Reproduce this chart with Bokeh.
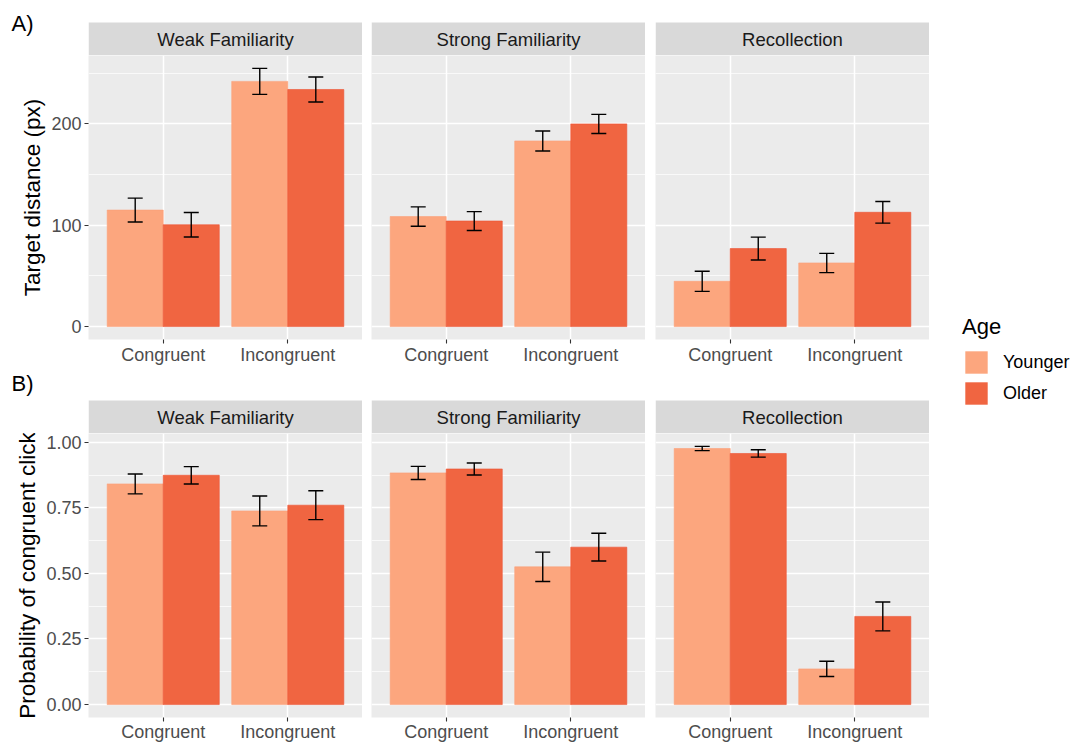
from bokeh.plotting import figure
from bokeh.models import (Range1d, FactorRange, FixedTicker, Whisker, TeeHead,
                          ColumnDataSource, Legend, LegendItem, NumeralTickFormatter)
from bokeh.layouts import row, column
from bokeh.transform import dodge
from bokeh.embed import file_html
from bokeh.resources import INLINE
from bokeh.core.properties import value

# ---- data -------------------------------------------------------------
conditions = ["Weak Familiarity", "Strong Familiarity", "Recollection"]
congruency = ["Congruent", "Incongruent"]
ages = ["Younger", "Older"]
age_colors = ["#FCA67E", "#F06541"]
age_lines = ["#FBA079", "#EC5334"]
panel_tags = ["A)", "B)"]

# cell order: (Weak: Cong, Incong), (Strong: Cong, Incong), (Recollection: Cong, Incong)
dist_younger_mean = [115.0, 242.0, 108.6, 183.2, 44.7, 62.8]
dist_younger_se = [11.8, 12.8, 9.5, 9.9, 9.9, 9.5]
dist_older_mean = [100.5, 234.0, 104.2, 200.0, 77.0, 112.8]
dist_older_se = [12.1, 12.3, 9.3, 9.4, 11.3, 10.7]

prob_younger_mean = [0.841, 0.738, 0.883, 0.525, 0.976, 0.136]
prob_younger_se = [0.038, 0.057, 0.025, 0.056, 0.008, 0.029]
prob_older_mean = [0.874, 0.760, 0.898, 0.600, 0.957, 0.336]
prob_older_se = [0.033, 0.055, 0.023, 0.053, 0.014, 0.055]

dist_ticks = [0, 100, 200]
dist_minor = [50, 150, 250]
prob_ticks = [0.0, 0.25, 0.5, 0.75, 1.0]
prob_minor = [0.125, 0.375, 0.625, 0.875]

# ---- style --------------------------------------------------------------
FONT = "Liberation Sans"
PANEL_W = 274
LEFT = [88, 9, 10]
STRIP_H = 33
STRIP_FILL = "#D9D9D9"
DODGE = 0.225
BAR_W = 0.45
TICK_FS = "18px"


def padded_range(means_a, se_a, means_b, se_b):
    top = max(max(m + s for m, s in zip(means_a, se_a)),
              max(m + s for m, s in zip(means_b, se_b)))
    return (-0.05 * top, 1.05 * top)


def make_strip(ci, height, tag, tag_from_top):
    """Facet strip at the bottom of a white band; y runs in pixels from the bottom."""
    with_tag = ci == 0
    s = figure(width=LEFT[ci] + PANEL_W, height=height,
               x_range=Range1d(0, 1), y_range=Range1d(0, height),
               x_axis_location=None, y_axis_location="left" if with_tag else None,
               min_border_left=LEFT[ci], min_border_right=0,
               min_border_top=0, min_border_bottom=0,
               background_fill_color="white", border_fill_color="white",
               outline_line_color=None, toolbar_location=None, output_backend="svg")
    s.grid.visible = False
    s.quad(left=0, right=1, bottom=0, top=STRIP_H, fill_color=STRIP_FILL, line_color=None)
    s.text(x=[0.5], y=[STRIP_H / 2], text=[conditions[ci]], text_align="center",
           text_baseline="middle", text_font=value(FONT), text_font_size="18.5px",
           text_color="#1A1A1A")
    if with_tag:
        # the panel tag is written as the single tick label of a bare axis
        tag_y = height - tag_from_top
        ax = s.yaxis[0]
        ax.ticker = FixedTicker(ticks=[tag_y])
        ax.major_label_overrides = {tag_y: tag}
        ax.major_label_text_font = FONT
        ax.major_label_text_font_size = "22px"
        ax.major_label_text_color = "black"
        ax.major_label_standoff = 55
        ax.major_tick_out = 0
        ax.major_tick_in = 0
        ax.minor_tick_out = 0
        ax.minor_tick_in = 0
        ax.major_tick_line_color = None
        ax.minor_tick_line_color = None
        ax.axis_line_color = None
    return s


def style_axis(ax):
    ax.major_label_text_font = FONT
    ax.major_label_text_font_size = TICK_FS
    ax.major_label_text_color = "#4D4D4D"
    ax.major_tick_out = 4
    ax.major_tick_in = 0
    ax.minor_tick_out = 0
    ax.minor_tick_in = 0
    ax.major_tick_line_color = "#333333"
    ax.major_tick_line_width = 1.1
    ax.axis_line_color = None


def make_panel(ci, yr, ticks, minor, fmt, ylabel, frame_h, bottom, x_standoff,
               y_mean, y_se, o_mean, o_se):
    first = ci == 0
    p = figure(width=LEFT[ci] + PANEL_W, height=frame_h + bottom,
               x_range=FactorRange(*congruency, range_padding=0.1,
                                   range_padding_units="absolute"),
               y_range=Range1d(*yr),
               y_axis_location="left" if first else None,
               min_border_left=LEFT[ci], min_border_right=0,
               min_border_top=0, min_border_bottom=bottom,
               background_fill_color="#EBEBEB", border_fill_color="white",
               outline_line_color=None, toolbar_location=None, output_backend="svg")

    cells = slice(2 * ci, 2 * ci + 2)
    series = [(y_mean[cells], y_se[cells], -DODGE, 0),
              (o_mean[cells], o_se[cells], DODGE, 1)]
    srcs = []
    for means, ses, off, ai in series:
        src = ColumnDataSource(dict(
            cond=congruency, mean=means,
            lower=[m - s for m, s in zip(means, ses)],
            upper=[m + s for m, s in zip(means, ses)]))
        srcs.append(src)
        p.vbar(x=dodge("cond", off, range=p.x_range), top="mean", bottom=0,
               width=BAR_W, source=src, fill_color=age_colors[ai],
               line_color=age_lines[ai], line_width=0.6)
        p.add_layout(Whisker(
            base=dodge("cond", off, range=p.x_range), lower="lower", upper="upper",
            source=src, line_color="black", line_width=1.4,
            upper_head=TeeHead(size=15, line_color="black", line_width=1.4),
            lower_head=TeeHead(size=15, line_color="black", line_width=1.4),
            level="annotation"))

    if first:
        ya = p.yaxis[0]
        ya.ticker = FixedTicker(ticks=ticks)
        ya.formatter = NumeralTickFormatter(format=fmt)
        ya.axis_label = ylabel
        ya.axis_label_text_font = FONT
        ya.axis_label_text_font_size = "22.5px"
        ya.axis_label_text_font_style = "normal"
        ya.axis_label_text_color = "black"
        ya.axis_label_standoff = 3
        ya.major_label_standoff = 3
        style_axis(ya)

    for g in p.ygrid:
        g.ticker = FixedTicker(ticks=ticks, minor_ticks=minor)
        g.grid_line_color = "white"
        g.grid_line_width = 1.5
        g.minor_grid_line_color = "white"
        g.minor_grid_line_width = 0.7
    p.xgrid.grid_line_color = "white"
    p.xgrid.grid_line_width = 1.5

    xa = p.xaxis[0]
    style_axis(xa)
    xa.major_label_standoff = x_standoff
    return p, srcs


dist_range = padded_range(dist_younger_mean, dist_younger_se, dist_older_mean, dist_older_se)
prob_range = padded_range(prob_younger_mean, prob_younger_se, prob_older_mean, prob_older_se)

cols_a, cols_b = [], []
legend_sources = None
for ci in range(3):
    sa = make_strip(ci, 55, panel_tags[0], 23)
    pa, srcs = make_panel(ci, dist_range, dist_ticks, dist_minor, "0", "Target distance (px)",
                          284, 31, 1, dist_younger_mean, dist_younger_se,
                          dist_older_mean, dist_older_se)
    sb = make_strip(ci, 63, panel_tags[1], 13)
    pb, _ = make_panel(ci, prob_range, prob_ticks, prob_minor, "0.00",
                       "Probability of congruent click", 285, 26, 0,
                       prob_younger_mean, prob_younger_se, prob_older_mean, prob_older_se)
    if ci == 0:
        legend_sources = srcs
    cols_a.append(column(sa, pa, spacing=0))
    cols_b.append(column(sb, pb, spacing=0))

# legend column: hidden copies of the bar renderers supply the key swatches
lg = figure(width=144, height=744, x_range=FactorRange(*congruency),
            x_axis_location=None, y_axis_location=None,
            min_border=0, outline_line_color=None, toolbar_location=None,
            output_backend="svg")
lg.grid.visible = False
items = []
for a, c, src in zip(ages, age_colors, legend_sources):
    r = lg.vbar(x="cond", top="mean", width=0.9, source=src, fill_color=c,
                line_color=None, visible=False)
    items.append(LegendItem(label=a, renderers=[r]))
legend = Legend(items=items, title="Age", location=(33, 337),
                title_text_font=FONT, title_text_font_size="22px",
                title_text_font_style="normal", title_text_color="black",
                title_standoff=8,
                label_text_font=FONT, label_text_font_size="18px", label_text_color="black",
                glyph_width=28, glyph_height=28, label_height=28, label_standoff=13,
                spacing=3, padding=0, margin=0, border_line_color=None,
                background_fill_alpha=0)
lg.add_layout(legend)

layout = row(column(row(*cols_a, spacing=0), row(*cols_b, spacing=0), spacing=0), lg, spacing=0)

open("out.html", "w").write(file_html(layout, INLINE))
